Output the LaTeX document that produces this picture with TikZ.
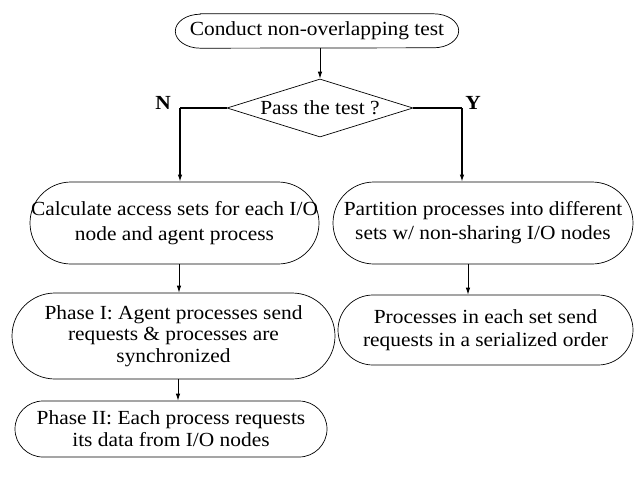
\documentclass[tikz,border=0pt]{standalone}
\usepackage{fontspec}
\setmainfont[FakeStretch=1.07]{Liberation Serif}
\usetikzlibrary{shapes.geometric,arrows.meta}
\begin{document}
\begin{tikzpicture}[x=1pt,y=-1pt,
  box/.style={draw, line width=0.7pt, rounded corners=#1, inner sep=0pt, align=center},
  dia/.style={draw, shape=diamond, shape aspect=3.2, inner sep=0pt, line width=0.7pt,
              minimum width=186pt, minimum height=58pt},
  arr/.style={line width=0.9pt, -{Latex[length=7pt,width=4.5pt]}},
  thickline/.style={line width=2pt},
  vline/.style={line width=1.2pt, -{Latex[length=7pt,width=4.5pt]}},
  lab/.style={font=\fontsize{20}{22}\selectfont\bfseries},
  font=\fontsize{20}{24}\selectfont]
\useasboundingbox (0,0) rectangle (635,485);

% top node: stadium with elliptical ends
\node[inner sep=0pt, minimum width=283pt, minimum height=34pt] (top) at (317,31) {Conduct non-overlapping test};
\draw[line width=0.7pt] ([xshift=25pt]top.north west) -- ([xshift=-25pt]top.north east)
  arc[start angle=90, end angle=-90, x radius=25pt, y radius=17pt]
  -- ([xshift=25pt]top.south west)
  arc[start angle=270, end angle=90, x radius=25pt, y radius=17pt] -- cycle;

\node[dia] (test) at (320,108) {Pass the test ?};

\node[box=41pt, minimum width=289pt, minimum height=82pt, font=\fontsize{20}{25}\selectfont] (calc) at (174.5,223)
  {Calculate access sets for each I/O\\node and agent process};
\node[box=41pt, minimum width=300pt, minimum height=82pt, font=\fontsize{20}{24}\selectfont] (part) at (483,223)
  {Partition processes into different\\sets w/ non-sharing I/O nodes};
\node[box=43pt, minimum width=323pt, minimum height=86pt, font=\fontsize{20}{21.5}\selectfont] (ph1) at (173.5,336)
  {Phase I: Agent processes send\\requests \& processes are\\synchronized};
\node[box=28pt, minimum width=312pt, minimum height=56pt, font=\fontsize{20}{22}\selectfont] (ph2) at (171,429)
  {Phase II: Each process requests\\its data from I/O nodes};
\node[box=35pt, minimum width=295pt, minimum height=70pt, font=\fontsize{20}{23}\selectfont] (ser) at (485.5,330)
  {Processes in each set send\\requests in a serialized order};

\node[lab] (nlab) at (163,103) {N};
\node[lab] (ylab) at (473,103) {Y};

\coordinate (nc) at (180,108);
\coordinate (yc) at (462,108);
\coordinate (c1) at (179,0);
\coordinate (c2) at (178,0);
\coordinate (c3) at (468,0);

\draw[arr] (test.north |- top.south) -- (test.north);
\draw[thickline] (test.west) -- (nc);
\draw[vline] (nc) -- (nc |- calc.north);
\draw[thickline] (test.east) -- (yc);
\draw[vline] (yc) -- (yc |- part.north);
\draw[arr] (c1 |- calc.south) -- (c1 |- ph1.north);
\draw[arr] (c2 |- ph1.south) -- (c2 |- ph2.north);
\draw[arr] (c3 |- part.south) -- (c3 |- ser.north);
\end{tikzpicture}
\end{document}
